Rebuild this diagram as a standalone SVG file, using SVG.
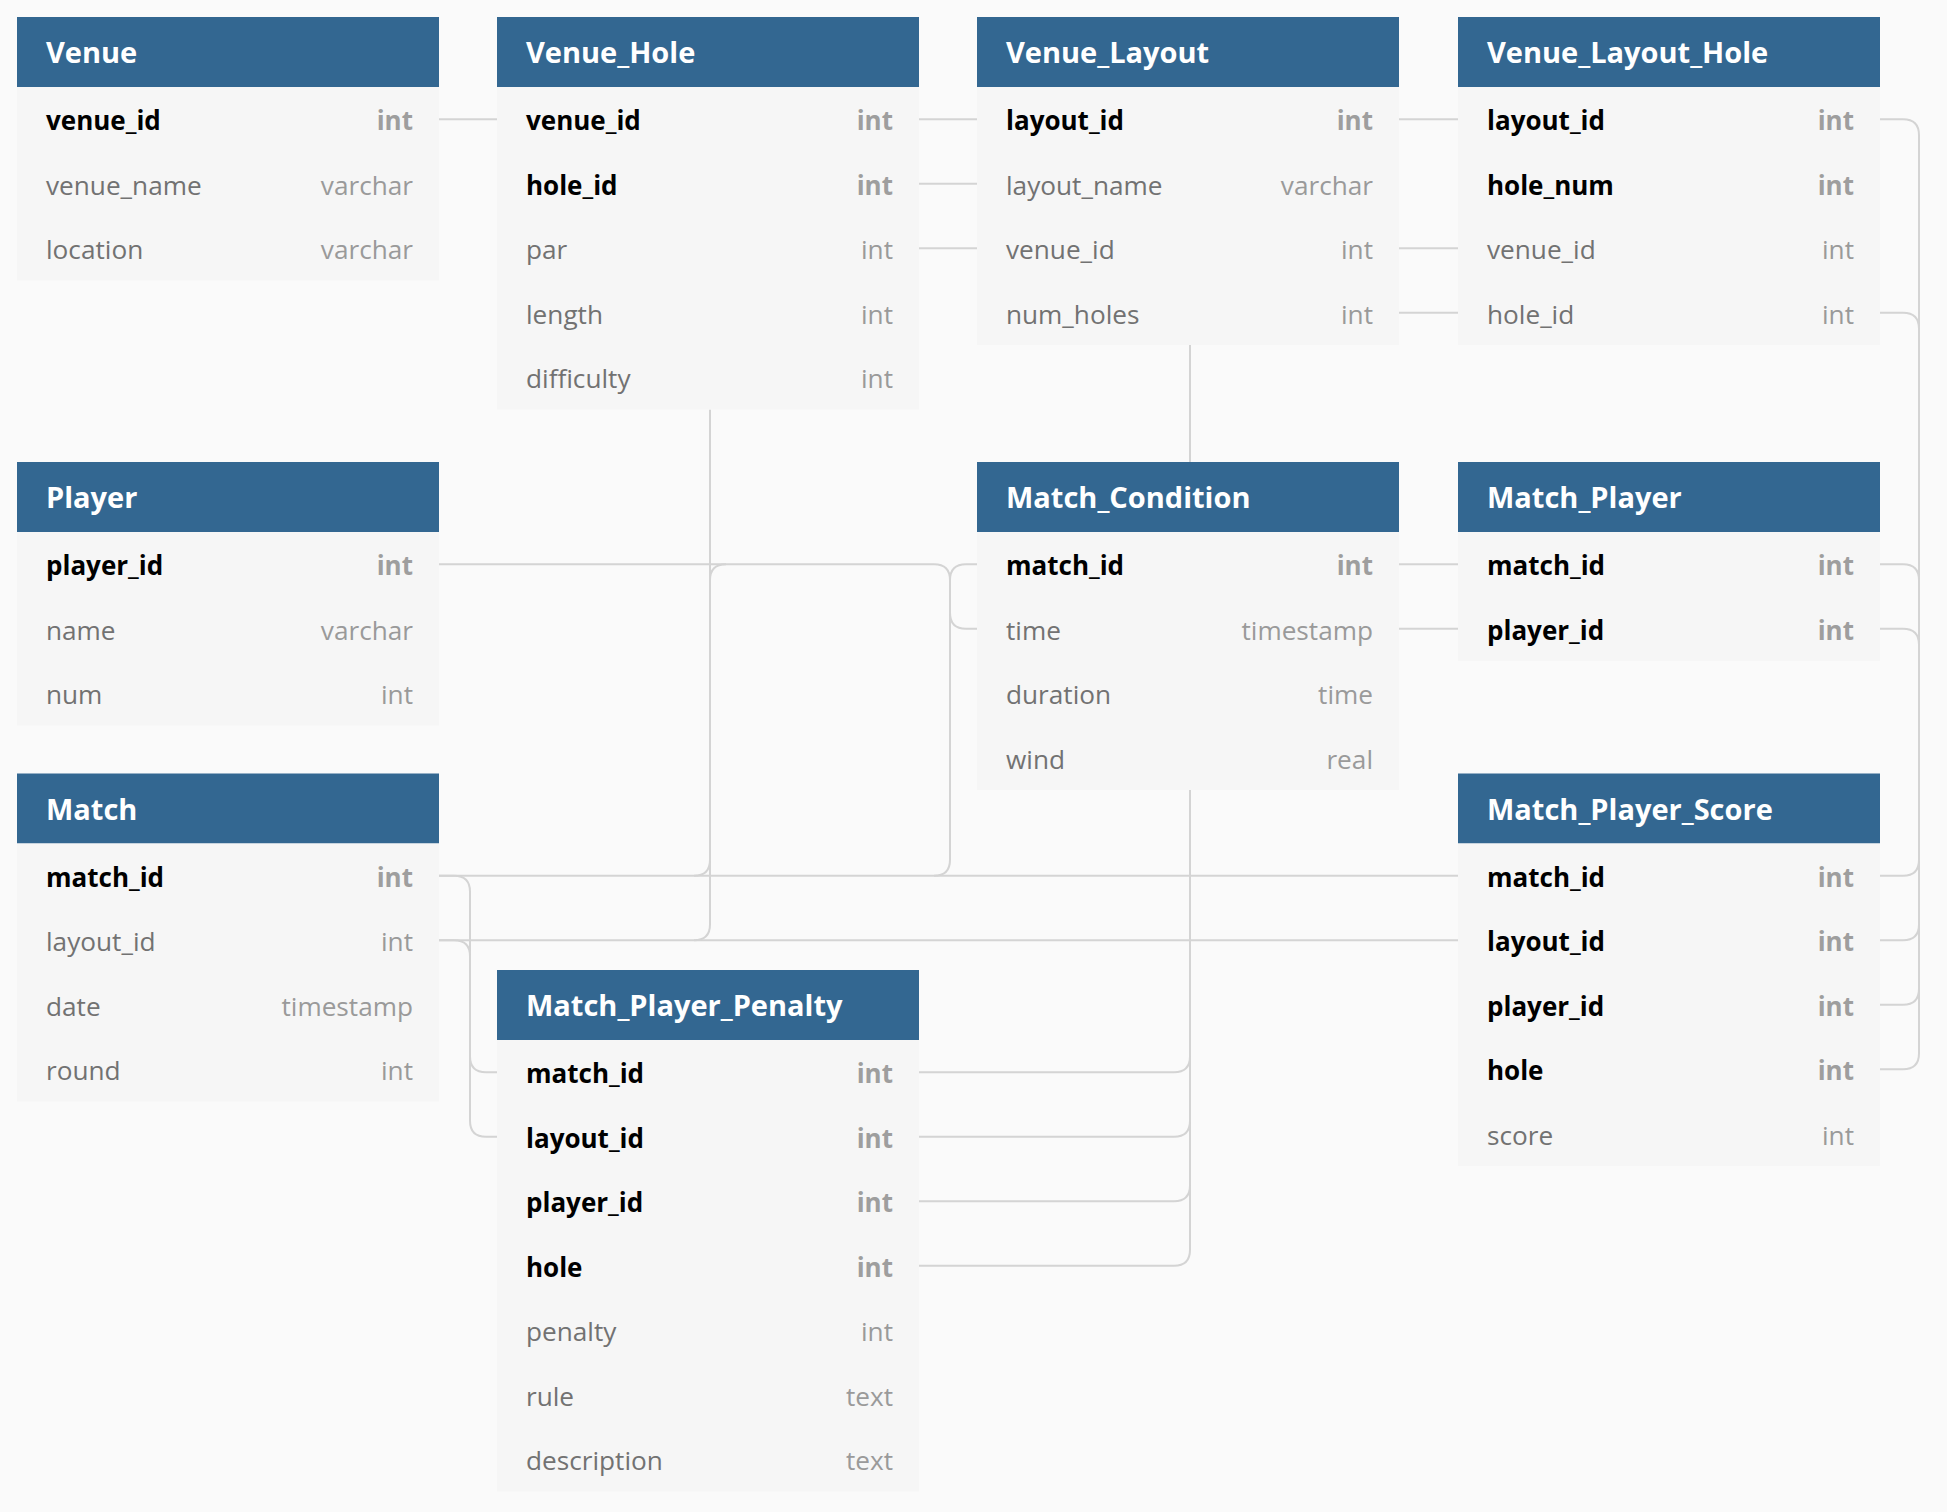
<svg xmlns="http://www.w3.org/2000/svg" width="1947" height="1512" viewBox="0 0 1947 1512">
<style>
.hd{fill:#336791}
.bd{fill:#f6f6f6}
.ht{font:700 29px "Open Sans","Liberation Sans",sans-serif;fill:#ffffff}
.fn{font:400 26.2px "Open Sans","Liberation Sans",sans-serif;fill:#727272}
.fk{font:700 26px "Open Sans","Liberation Sans",sans-serif;fill:#000000}
.tn{font:400 26.2px "Open Sans","Liberation Sans",sans-serif;fill:#9a9a9a;text-anchor:end}
.tk{font:700 26px "Open Sans","Liberation Sans",sans-serif;fill:#9e9e9e;text-anchor:end}
.cn{fill:none;stroke:#d4d4d4;stroke-width:2}
</style>
<rect x="0" y="0" width="1947" height="1512" fill="#fafafa"/>
<g id="connectors">
<path class="cn" d="M439 119.25H497"/>
<path class="cn" d="M919 119.25H977"/>
<path class="cn" d="M919 183.75H977"/>
<path class="cn" d="M919 248.25H977"/>
<path class="cn" d="M1399 119.25H1458"/>
<path class="cn" d="M1399 248.25H1458"/>
<path class="cn" d="M1399 312.75H1458"/>
<path class="cn" d="M1190 345V462"/>
<path class="cn" d="M1399 564.25H1458"/>
<path class="cn" d="M1399 628.75H1458"/>
<path class="cn" d="M1190 790V1249.75Q1190 1265.75 1174 1265.75H919"/>
<path class="cn" d="M1190 1056.25Q1190 1072.25 1174 1072.25H919"/>
<path class="cn" d="M1190 1120.75Q1190 1136.75 1174 1136.75H919"/>
<path class="cn" d="M1190 1185.25Q1190 1201.25 1174 1201.25H919"/>
<path class="cn" d="M1880 119.25H1903Q1919 119.25 1919 135.25V1053.25Q1919 1069.25 1903 1069.25H1880"/>
<path class="cn" d="M1880 312.75H1903Q1919 312.75 1919 328.75"/>
<path class="cn" d="M1880 564.25H1903Q1919 564.25 1919 580.25"/>
<path class="cn" d="M1880 628.75H1903Q1919 628.75 1919 644.75"/>
<path class="cn" d="M1880 875.75H1903Q1919 875.75 1919 859.75"/>
<path class="cn" d="M1880 940.25H1903Q1919 940.25 1919 924.25"/>
<path class="cn" d="M1880 1004.75H1903Q1919 1004.75 1919 988.75"/>
<path class="cn" d="M439 875.75H1458"/>
<path class="cn" d="M439 940.25H1458"/>
<path class="cn" d="M710 409.5V924.25Q710 940.25 694 940.25"/>
<path class="cn" d="M694 875.75Q710 875.75 710 859.75"/>
<path class="cn" d="M710 580.25Q710 564.25 726 564.25"/>
<path class="cn" d="M439 564.25H934Q950 564.25 950 580.25V859.75Q950 875.75 934 875.75"/>
<path class="cn" d="M950 580.25Q950 564.25 966 564.25H977"/>
<path class="cn" d="M950 612.75Q950 628.75 966 628.75H977"/>
<path class="cn" d="M439 875.75H454Q470 875.75 470 891.75V1056.25Q470 1072.25 486 1072.25H497"/>
<path class="cn" d="M439 940.25H454Q470 940.25 470 956.25V1120.75Q470 1136.75 486 1136.75H497"/>
</g>
<g id="Venue" transform="translate(17,17)">
<rect class="hd" width="422" height="70"/><rect class="bd" y="70" width="422" height="193.5"/>
<text class="ht" x="29" y="46">Venue</text>
<text class="fk" x="29" y="113.25">venue_id</text><text class="tk" x="396" y="113.25">int</text>
<text class="fn" x="29" y="177.75">venue_name</text><text class="tn" x="396" y="177.75">varchar</text>
<text class="fn" x="29" y="242.25">location</text><text class="tn" x="396" y="242.25">varchar</text>
</g>
<g id="Venue_Hole" transform="translate(497,17)">
<rect class="hd" width="422" height="70"/><rect class="bd" y="70" width="422" height="322.5"/>
<text class="ht" x="29" y="46">Venue_Hole</text>
<text class="fk" x="29" y="113.25">venue_id</text><text class="tk" x="396" y="113.25">int</text>
<text class="fk" x="29" y="177.75">hole_id</text><text class="tk" x="396" y="177.75">int</text>
<text class="fn" x="29" y="242.25">par</text><text class="tn" x="396" y="242.25">int</text>
<text class="fn" x="29" y="306.75">length</text><text class="tn" x="396" y="306.75">int</text>
<text class="fn" x="29" y="371.25">difficulty</text><text class="tn" x="396" y="371.25">int</text>
</g>
<g id="Venue_Layout" transform="translate(977,17)">
<rect class="hd" width="422" height="70"/><rect class="bd" y="70" width="422" height="258"/>
<text class="ht" x="29" y="46">Venue_Layout</text>
<text class="fk" x="29" y="113.25">layout_id</text><text class="tk" x="396" y="113.25">int</text>
<text class="fn" x="29" y="177.75">layout_name</text><text class="tn" x="396" y="177.75">varchar</text>
<text class="fn" x="29" y="242.25">venue_id</text><text class="tn" x="396" y="242.25">int</text>
<text class="fn" x="29" y="306.75">num_holes</text><text class="tn" x="396" y="306.75">int</text>
</g>
<g id="Venue_Layout_Hole" transform="translate(1458,17)">
<rect class="hd" width="422" height="70"/><rect class="bd" y="70" width="422" height="258"/>
<text class="ht" x="29" y="46">Venue_Layout_Hole</text>
<text class="fk" x="29" y="113.25">layout_id</text><text class="tk" x="396" y="113.25">int</text>
<text class="fk" x="29" y="177.75">hole_num</text><text class="tk" x="396" y="177.75">int</text>
<text class="fn" x="29" y="242.25">venue_id</text><text class="tn" x="396" y="242.25">int</text>
<text class="fn" x="29" y="306.75">hole_id</text><text class="tn" x="396" y="306.75">int</text>
</g>
<g id="Player" transform="translate(17,462)">
<rect class="hd" width="422" height="70"/><rect class="bd" y="70" width="422" height="193.5"/>
<text class="ht" x="29" y="46">Player</text>
<text class="fk" x="29" y="113.25">player_id</text><text class="tk" x="396" y="113.25">int</text>
<text class="fn" x="29" y="177.75">name</text><text class="tn" x="396" y="177.75">varchar</text>
<text class="fn" x="29" y="242.25">num</text><text class="tn" x="396" y="242.25">int</text>
</g>
<g id="Match_Condition" transform="translate(977,462)">
<rect class="hd" width="422" height="70"/><rect class="bd" y="70" width="422" height="258"/>
<text class="ht" x="29" y="46">Match_Condition</text>
<text class="fk" x="29" y="113.25">match_id</text><text class="tk" x="396" y="113.25">int</text>
<text class="fn" x="29" y="177.75">time</text><text class="tn" x="396" y="177.75">timestamp</text>
<text class="fn" x="29" y="242.25">duration</text><text class="tn" x="396" y="242.25">time</text>
<text class="fn" x="29" y="306.75">wind</text><text class="tn" x="396" y="306.75">real</text>
</g>
<g id="Match_Player" transform="translate(1458,462)">
<rect class="hd" width="422" height="70"/><rect class="bd" y="70" width="422" height="129"/>
<text class="ht" x="29" y="46">Match_Player</text>
<text class="fk" x="29" y="113.25">match_id</text><text class="tk" x="396" y="113.25">int</text>
<text class="fk" x="29" y="177.75">player_id</text><text class="tk" x="396" y="177.75">int</text>
</g>
<g id="Match" transform="translate(17,773.5)">
<rect class="hd" width="422" height="70"/><rect class="bd" y="70" width="422" height="258"/>
<text class="ht" x="29" y="46">Match</text>
<text class="fk" x="29" y="113.25">match_id</text><text class="tk" x="396" y="113.25">int</text>
<text class="fn" x="29" y="177.75">layout_id</text><text class="tn" x="396" y="177.75">int</text>
<text class="fn" x="29" y="242.25">date</text><text class="tn" x="396" y="242.25">timestamp</text>
<text class="fn" x="29" y="306.75">round</text><text class="tn" x="396" y="306.75">int</text>
</g>
<g id="Match_Player_Score" transform="translate(1458,773.5)">
<rect class="hd" width="422" height="70"/><rect class="bd" y="70" width="422" height="322.5"/>
<text class="ht" x="29" y="46">Match_Player_Score</text>
<text class="fk" x="29" y="113.25">match_id</text><text class="tk" x="396" y="113.25">int</text>
<text class="fk" x="29" y="177.75">layout_id</text><text class="tk" x="396" y="177.75">int</text>
<text class="fk" x="29" y="242.25">player_id</text><text class="tk" x="396" y="242.25">int</text>
<text class="fk" x="29" y="306.75">hole</text><text class="tk" x="396" y="306.75">int</text>
<text class="fn" x="29" y="371.25">score</text><text class="tn" x="396" y="371.25">int</text>
</g>
<g id="Match_Player_Penalty" transform="translate(497,970)">
<rect class="hd" width="422" height="70"/><rect class="bd" y="70" width="422" height="451.5"/>
<text class="ht" x="29" y="46">Match_Player_Penalty</text>
<text class="fk" x="29" y="113.25">match_id</text><text class="tk" x="396" y="113.25">int</text>
<text class="fk" x="29" y="177.75">layout_id</text><text class="tk" x="396" y="177.75">int</text>
<text class="fk" x="29" y="242.25">player_id</text><text class="tk" x="396" y="242.25">int</text>
<text class="fk" x="29" y="306.75">hole</text><text class="tk" x="396" y="306.75">int</text>
<text class="fn" x="29" y="371.25">penalty</text><text class="tn" x="396" y="371.25">int</text>
<text class="fn" x="29" y="435.75">rule</text><text class="tn" x="396" y="435.75">text</text>
<text class="fn" x="29" y="500.25">description</text><text class="tn" x="396" y="500.25">text</text>
</g>
</svg>
